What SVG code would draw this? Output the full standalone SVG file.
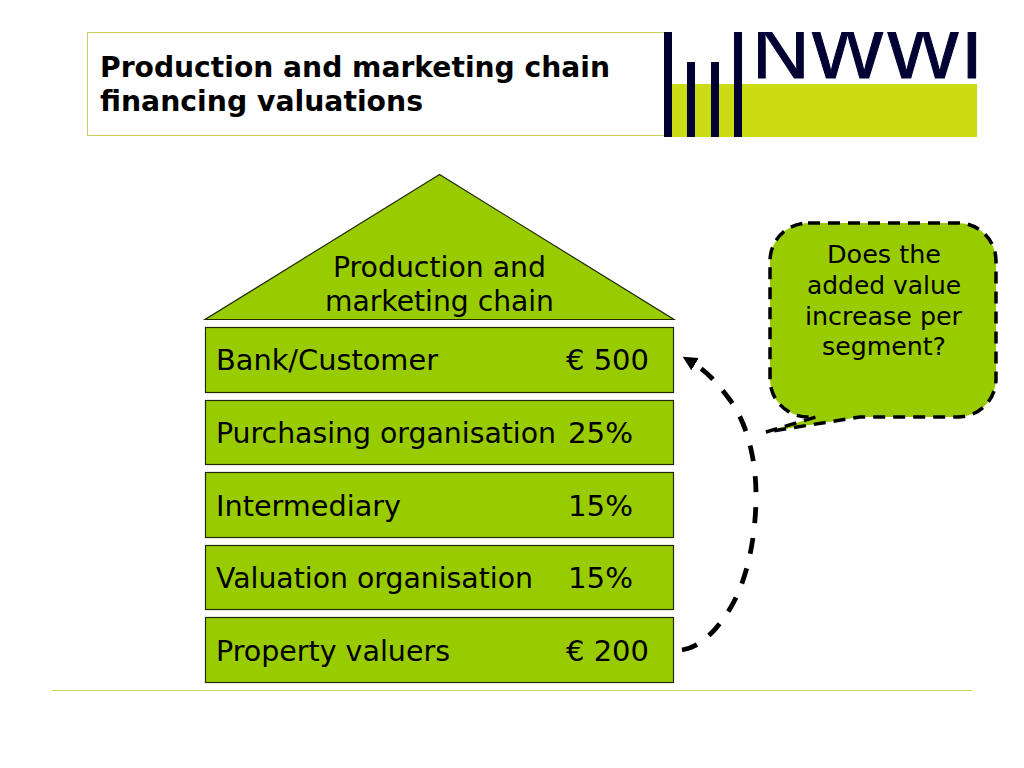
<svg xmlns="http://www.w3.org/2000/svg" width="1024" height="768" viewBox="0 0 1024 768">
<style>
text{font-family:"DejaVu Sans",Verdana,sans-serif;fill:#000}
.t{font-size:28px;font-weight:bold}
.l{font-size:27.5px}
.c{font-size:24.5px}
.box{fill:#99cc00;stroke:#1f2a00;stroke-width:1.200}
.bar{fill:#000033}
.dash{fill:none;stroke:#000;stroke-width:4.800;stroke-dasharray:16 15}
</style>
<defs>
<marker id="arr" markerWidth="4" markerHeight="4" refX="0.500" refY="1.500" orient="auto" markerUnits="strokeWidth"><path d="M0 0L3 1.500L0 3Z" fill="#000"/></marker>
<clipPath id="logoclip"><rect x="664" y="32" width="313" height="105"/></clipPath>
</defs>
<rect width="1024" height="768" fill="#fff"/>
<g id="header">
<rect x="87.500" y="32.500" width="600" height="103" fill="#fff" stroke="#c9cf5a" stroke-width="1"/>
<text class="t" x="100" y="77" textLength="510" lengthAdjust="spacingAndGlyphs">Production and marketing chain</text>
<text class="t" x="100" y="111" textLength="323" lengthAdjust="spacingAndGlyphs">financing valuations</text>
</g>
<g id="logo">
<rect x="664" y="32" width="313" height="105" fill="#fff"/>
<rect x="664" y="84" width="313" height="53" fill="#cbdc14"/>
<rect class="bar" x="664" y="32" width="8" height="105"/>
<rect class="bar" x="687" y="62" width="8" height="75"/>
<rect class="bar" x="711" y="62" width="8" height="75"/>
<rect class="bar" x="734" y="32" width="8" height="105"/>
<text x="752" y="78" clip-path="url(#logoclip)" textLength="231" lengthAdjust="spacingAndGlyphs" stroke="#000033" stroke-width="1" style="font-family:'Liberation Sans',sans-serif;font-size:76px;fill:#000033">NWWI</text>
</g>
<g id="roof">
<polygon class="box" points="439.500,174.500 205,319.500 674,319.500"/>
<text class="l" x="333" y="277" textLength="213" lengthAdjust="spacingAndGlyphs">Production and</text>
<text class="l" x="325" y="311" textLength="229" lengthAdjust="spacingAndGlyphs">marketing chain</text>
</g>
<g id="bank">
<rect class="box" x="205.500" y="327.500" width="468" height="65"/>
<text class="l" x="216" y="370" textLength="222" lengthAdjust="spacingAndGlyphs">Bank/Customer</text>
<text class="l" x="566" y="370" textLength="83" lengthAdjust="spacingAndGlyphs">€ 500</text>
</g>
<g id="purchasing">
<rect class="box" x="205.500" y="400.500" width="468" height="64"/>
<text class="l" x="216" y="443" textLength="340" lengthAdjust="spacingAndGlyphs">Purchasing organisation</text>
<text class="l" x="568" y="443" textLength="65" lengthAdjust="spacingAndGlyphs">25%</text>
</g>
<g id="intermediary">
<rect class="box" x="205.500" y="472.500" width="468" height="65"/>
<text class="l" x="216" y="516" textLength="185" lengthAdjust="spacingAndGlyphs">Intermediary</text>
<text class="l" x="568" y="516" textLength="65" lengthAdjust="spacingAndGlyphs">15%</text>
</g>
<g id="valuation">
<rect class="box" x="205.500" y="545.500" width="468" height="64"/>
<text class="l" x="216" y="588" textLength="317" lengthAdjust="spacingAndGlyphs">Valuation organisation</text>
<text class="l" x="568" y="588" textLength="65" lengthAdjust="spacingAndGlyphs">15%</text>
</g>
<g id="valuers">
<rect class="box" x="205.500" y="617.500" width="468" height="65"/>
<text class="l" x="216" y="661" textLength="234" lengthAdjust="spacingAndGlyphs">Property valuers</text>
<text class="l" x="566" y="661" textLength="83" lengthAdjust="spacingAndGlyphs">€ 200</text>
</g>
<g id="callout">
<path d="M808 223H958A38 38 0 0 1 996 261V379A38 38 0 0 1 958 417H860L766 432L816 417H808A38 38 0 0 1 770 379V261A38 38 0 0 1 808 223Z" fill="#99cc00" stroke="#000" stroke-width="3.500" stroke-dasharray="12 8"/>
<text class="c" x="827" y="263" textLength="114" lengthAdjust="spacingAndGlyphs">Does the</text>
<text class="c" x="807" y="294" textLength="154" lengthAdjust="spacingAndGlyphs">added value</text>
<text class="c" x="805" y="325" textLength="157" lengthAdjust="spacingAndGlyphs">increase per</text>
<text class="c" x="822" y="355" textLength="124" lengthAdjust="spacingAndGlyphs">segment?</text>
</g>
<g id="connectors">
<path class="dash" d="M682 650C700 647 716 632 731 607C748 578 756 535 756 495C756 455 745 420 730 400C718 384 708 372 693 363" marker-end="url(#arr)"/>
</g>
<g id="footer">
<line x1="52" y1="690.500" x2="972" y2="690.500" stroke="#c9cf5a" stroke-width="1"/>
</g>
</svg>
